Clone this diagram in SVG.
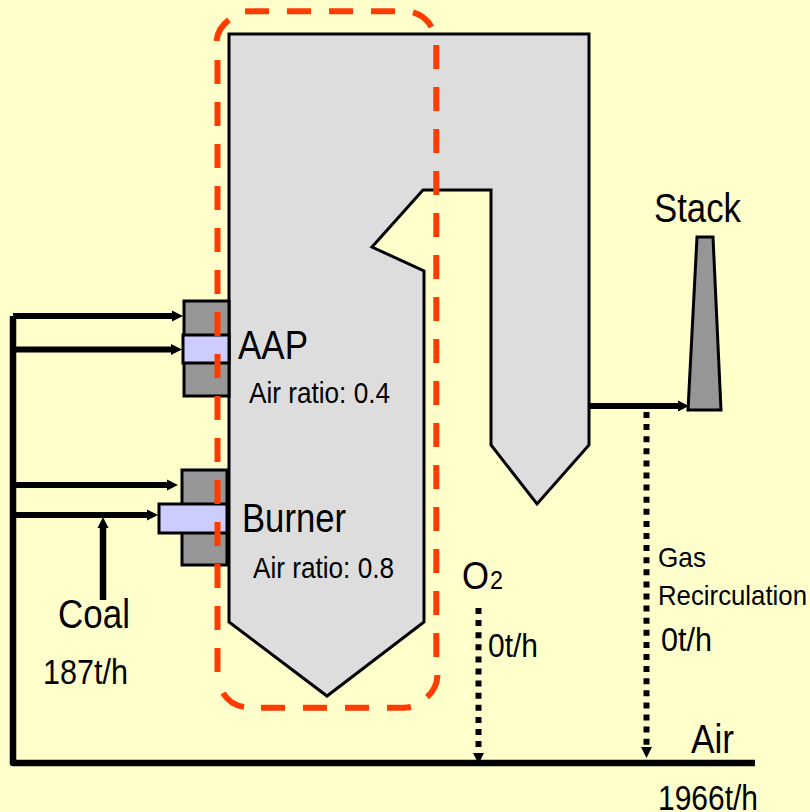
<svg xmlns="http://www.w3.org/2000/svg" width="810" height="812" viewBox="0 0 810 812">
<style>
text{font-family:"Liberation Sans",Arial,sans-serif;fill:#000}
.s{stroke:#000;stroke-width:3}
.g{fill:#969696}
.b{fill:#ccccff}
.w{fill:none;stroke:#000;stroke-width:6}
.t{fill:none;stroke:#000;stroke-width:6.500}
.d{fill:none;stroke:#000;stroke-width:6;stroke-dasharray:6 6.100}
.r{fill:none;stroke:#ff3c00;stroke-width:6}
.q{stroke-dasharray:24 18}
</style>
<defs>
<marker id="a" markerUnits="userSpaceOnUse" markerWidth="13" markerHeight="13" refX="1" refY="6" orient="auto"><path d="M0,0.500L11,6L0,11.500z"/></marker>
</defs>
<rect width="810" height="812" fill="#ffffcc"/>
<g id="boiler"><path class="s" fill="#dddddd" d="M229,34H589V445L537,504L491,445V190H423L372,247L424,271V622L327,696L229,622z"/></g>
<g id="stack"><path class="s g" d="M697,237H713L721,410H688z"/></g>
<g id="aap"><rect class="s g" x="184" y="301" width="45" height="95"/><rect class="s b" x="183" y="335" width="46" height="28"/></g>
<g id="burner"><rect class="s g" x="182" y="470" width="45" height="95"/><rect class="s b" x="159" y="504" width="68" height="29"/></g>
<g id="connectors">
<path class="t" d="M13,316V763H755" stroke-linejoin="round"/>
<path class="w" d="M13,316H173" marker-end="url(#a)"/>
<path class="w" d="M13,349.500H172" marker-end="url(#a)"/>
<path class="w" d="M16,485H168" marker-end="url(#a)"/>
<path class="w" d="M13,515H148" marker-end="url(#a)"/>
<path class="t" d="M103,600V527" marker-end="url(#a)"/>
<path class="w" d="M589,406H679" marker-end="url(#a)"/>
<path class="d" d="M646.500,412V746"/>
<path d="M641,747H652L646.500,758z"/>
<path class="d" d="M478.500,608V752"/>
<path d="M473,753H484L478.500,764z"/>
</g>
<g id="zone">
<path class="r q" d="M245,11.300H395"/>
<path class="r" d="M413,12.300A30,30 0 0 1 431.500,27"/>
<path class="r q" d="M436.300,45V657"/>
<path class="r" d="M437.500,675A30,30 0 0 1 427,697"/>
<path class="r q" d="M261,707.700H387M387,707.700H403Q408,707.700 411,707"/>
<path class="r" d="M244,707A30,30 0 0 1 223,693"/>
<path class="r q" d="M217.500,60V672"/>
<path class="r" d="M216.500,41A30,30 0 0 1 229,20"/>
</g>
<g id="labels">
<text x="654" y="222" font-size="41" textLength="87" lengthAdjust="spacingAndGlyphs">Stack</text>
<text x="238" y="359" font-size="41" textLength="70" lengthAdjust="spacingAndGlyphs">AAP</text>
<text x="249" y="403" font-size="30" textLength="141" lengthAdjust="spacingAndGlyphs">Air ratio: 0.4</text>
<text x="242" y="532" font-size="41" textLength="104" lengthAdjust="spacingAndGlyphs">Burner</text>
<text x="253" y="578" font-size="30" textLength="141" lengthAdjust="spacingAndGlyphs">Air ratio: 0.8</text>
<text x="462" y="589" font-size="38" textLength="27" lengthAdjust="spacingAndGlyphs">O</text>
<text x="490" y="589" font-size="25" textLength="13" lengthAdjust="spacingAndGlyphs">2</text>
<text x="488" y="657" font-size="34" textLength="50" lengthAdjust="spacingAndGlyphs">0t/h</text>
<text x="658" y="567" font-size="28" textLength="48" lengthAdjust="spacingAndGlyphs">Gas</text>
<text x="658" y="605" font-size="28" textLength="149" lengthAdjust="spacingAndGlyphs">Recirculation</text>
<text x="661" y="651" font-size="34" textLength="51" lengthAdjust="spacingAndGlyphs">0t/h</text>
<text x="58" y="628" font-size="41" textLength="72" lengthAdjust="spacingAndGlyphs">Coal</text>
<text x="43" y="684" font-size="35" textLength="85" lengthAdjust="spacingAndGlyphs">187t/h</text>
<text x="691" y="753" font-size="40" textLength="43" lengthAdjust="spacingAndGlyphs">Air</text>
<text x="658" y="810" font-size="35" textLength="100" lengthAdjust="spacingAndGlyphs">1966t/h</text>
</g>
</svg>
